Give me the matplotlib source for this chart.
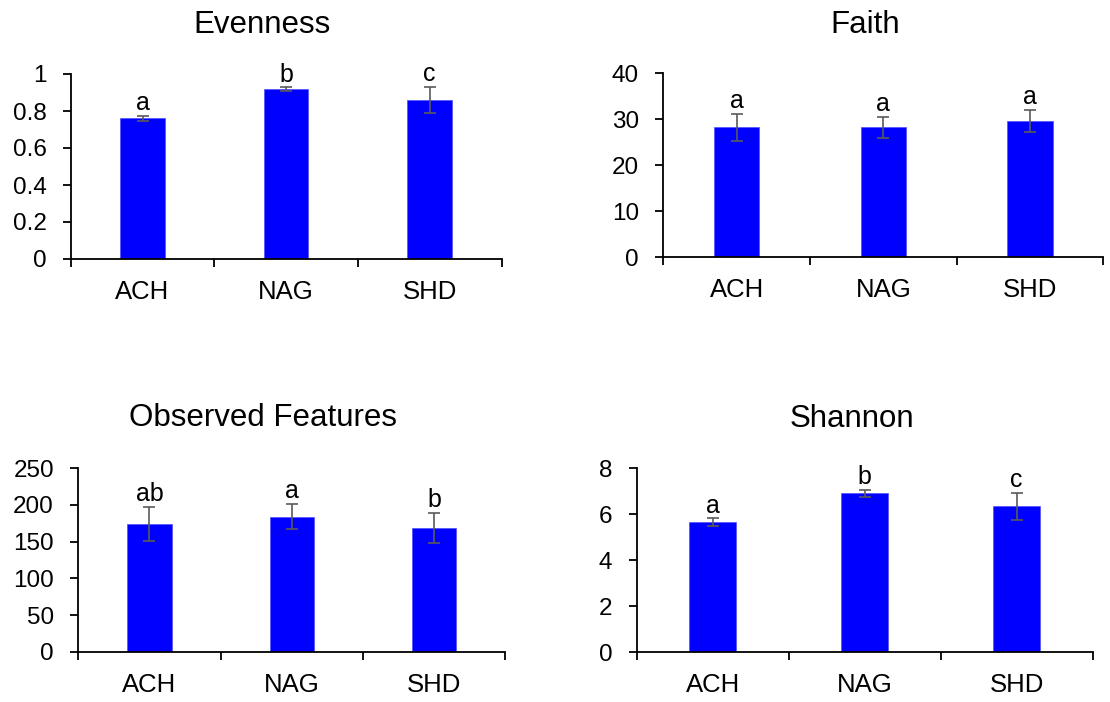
import matplotlib

matplotlib.use("Agg")

import matplotlib.pyplot as plt
from matplotlib.ticker import FuncFormatter

plt.rcParams["font.family"] = ["Liberation Sans", "DejaVu Sans"]

groups = ["ACH", "NAG", "SHD"]

evenness = [0.76, 0.919, 0.859]
evenness_err = [0.015, 0.01, 0.072]
evenness_letters = ["a", "b", "c"]

faith = [28.26, 28.26, 29.6]
faith_err = [2.95, 2.3, 2.45]
faith_letters = ["a", "a", "a"]

observed = [174.5, 184.0, 168.6]
observed_err = [23.0, 17.3, 20.5]
observed_letters = ["ab", "a", "b"]

shannon = [5.65, 6.92, 6.34]
shannon_err = [0.18, 0.15, 0.6]
shannon_letters = ["a", "b", "c"]

W, H = 1110, 702

# title, values, errors, letters, ymax, ystep, axes box px (left, right, top, bottom), title pos px
panels = [
    ("Evenness", evenness, evenness_err, evenness_letters, 1.0, 0.2,
     (70.7, 501.5, 74.0, 259.0), (262.5, 32.7)),
    ("Faith", faith, faith_err, faith_letters, 40, 10,
     (663.3, 1103.3, 73.3, 257.3), (865.5, 33.0)),
    ("Observed Features", observed, observed_err, observed_letters, 250, 50,
     (78.3, 505.3, 468.3, 651.7), (263.0, 426.0)),
    ("Shannon", shannon, shannon_err, shannon_letters, 8, 2,
     (636.7, 1092.7, 468.3, 652.3), (851.5, 426.7)),
]

fig = plt.figure(figsize=(W / 100, H / 100), dpi=100)

for title, vals, errs, letters, ymax, ystep, box, tpos in panels:
    l, r, t, b = box
    ax = fig.add_axes([l / W, 1 - b / H, (r - l) / W, (b - t) / H])
    xs = [i + 0.5 for i in range(len(groups))]
    ax.bar(xs, vals, width=0.31, color="#0000FF", edgecolor="#5050FF", linewidth=0.5, zorder=2)
    ax.errorbar(xs, vals, yerr=errs, fmt="none", ecolor="#5a5a5a", elinewidth=1.2,
                capsize=4, capthick=1.2, zorder=3)
    for x, v, e, lab in zip(xs, vals, errs, letters):
        ax.annotate(lab, (x, v + e), xytext=(0, 4), textcoords="offset points",
                    ha="center", va="baseline", fontsize=18)

    ax.set_xlim(0, 3)
    ax.set_ylim(0, ymax)
    n = int(round(ymax / ystep))
    ax.set_yticks([ystep * i for i in range(n + 1)])
    ax.yaxis.set_major_formatter(FuncFormatter(lambda v, p: f"{v:g}"))
    ax.set_xticks([0, 1, 2, 3])
    ax.set_xticklabels([])
    ax.set_xticks(xs, minor=True)
    ax.set_xticklabels(groups, minor=True, fontsize=18.5)

    for side in ("top", "right"):
        ax.spines[side].set_visible(False)
    for side in ("left", "bottom"):
        ax.spines[side].set_linewidth(1.3)
    ax.tick_params(axis="y", length=5.5, width=1.3, pad=12, labelsize=17.5)
    ax.tick_params(axis="x", which="major", length=5.5, width=1.3)
    ax.tick_params(axis="x", which="minor", length=0, pad=15)

    fig.text(tpos[0] / W, 1 - tpos[1] / H, title, ha="center", va="baseline", fontsize=22.5)

fig.savefig("out.png", dpi=100)
plt.close(fig)
